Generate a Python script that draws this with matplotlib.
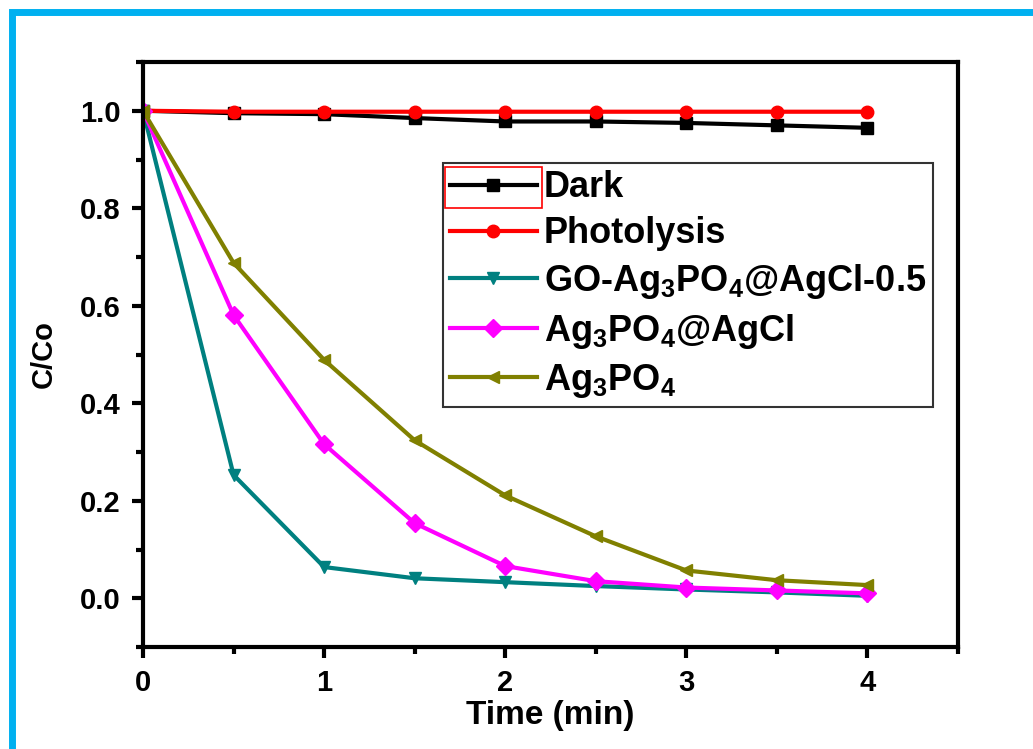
import matplotlib.pyplot as plt
import matplotlib.patches as patches
from matplotlib.ticker import MultipleLocator

plt.rcParams['font.family'] = ['Liberation Sans', 'DejaVu Sans']
plt.rcParams['font.weight'] = 'bold'
plt.rcParams['mathtext.fontset'] = 'custom'
plt.rcParams['mathtext.rm'] = 'Liberation Sans:bold'
plt.rcParams['mathtext.bf'] = 'Liberation Sans:bold'
plt.rcParams['mathtext.default'] = 'bf'

# Datos
tiempo = [0, 0.5, 1, 1.5, 2, 2.5, 3, 3.5, 4]
dark = [1.0, 0.995, 0.993, 0.985, 0.978, 0.978, 0.975, 0.970, 0.965]
fotolisis = [1.0, 0.998, 0.998, 0.998, 0.998, 0.998, 0.998, 0.998, 0.998]
go_ag3po4_agcl = [1.0, 0.253, 0.064, 0.041, 0.033, 0.025, 0.018, 0.012, 0.005]
ag3po4_agcl = [1.0, 0.581, 0.316, 0.154, 0.066, 0.035, 0.022, 0.016, 0.010]
ag3po4 = [1.0, 0.688, 0.489, 0.324, 0.211, 0.127, 0.057, 0.037, 0.027]

etiquetas = ['Dark', 'Photolysis', r'GO-Ag$_3$PO$_4$@AgCl-0.5',
             r'Ag$_3$PO$_4$@AgCl', r'Ag$_3$PO$_4$']
series = [dark, fotolisis, go_ag3po4_agcl, ag3po4_agcl, ag3po4]
colores = ['black', 'red', '#008080', '#ff00ff', '#808000']
marcadores = ['s', 'o', 'v', 'D', '<']

fig = plt.figure(figsize=(10.33, 7.49), dpi=100)
ax = fig.add_axes([143 / 1033, 1 - 647 / 749, 815 / 1033, 585 / 749])

for y, lab, c, m in zip(series, etiquetas, colores, marcadores):
    ax.plot(tiempo, y, color=c, marker=m, markersize=9, linewidth=3, label=lab)

ax.set_xlim(0, 4.5)
ax.set_ylim(-0.1, 1.1)
ax.xaxis.set_minor_locator(MultipleLocator(0.5))
ax.yaxis.set_minor_locator(MultipleLocator(0.1))
ax.set_xticks([0, 1, 2, 3, 4])
ax.set_yticks([0.0, 0.2, 0.4, 0.6, 0.8, 1.0])
ax.tick_params(which='major', direction='out', length=8, width=3, labelsize=21, pad=8)
ax.tick_params(which='minor', direction='out', length=5, width=3)
for s in ax.spines.values():
    s.set_linewidth(3)

ax.set_xlabel('Time (min)', fontsize=24, fontweight='bold', labelpad=2)
ax.set_ylabel('C/Co', fontsize=21, fontweight='bold', labelpad=16)

leg = ax.legend(loc='upper left', bbox_to_anchor=(0.368, 0.827), fontsize=26,
                frameon=True, fancybox=False, edgecolor='black', handlelength=2.4,
                handletextpad=0.2, borderaxespad=0, borderpad=0.2,
                labelspacing=0.3)
leg.get_frame().set_linewidth(1.5)

# Recuadro rojo alrededor del simbolo de "Dark" (como en la imagen original)
fig.canvas.draw()
r = fig.canvas.get_renderer()
bb_linea = leg.legend_handles[0].get_window_extent(r)
bb_texto = leg.get_texts()[0].get_window_extent(r)
sel = patches.Rectangle((bb_linea.x0 + 1, bb_texto.y0 - 3),
                        bb_linea.width - 2, bb_texto.height + 6,
                        transform=None, fill=False, edgecolor='red',
                        linewidth=1.2, zorder=10)
fig.patches.append(sel)

# Marco azul alrededor de la figura
borde = patches.Rectangle((12 / 1033, -0.05), 1.1, 1 - 12 / 749 + 0.05,
                          transform=fig.transFigure, fill=False,
                          edgecolor='#00b0f0', linewidth=5, clip_on=False)
fig.patches.append(borde)

fig.savefig('out.png', dpi=100)
